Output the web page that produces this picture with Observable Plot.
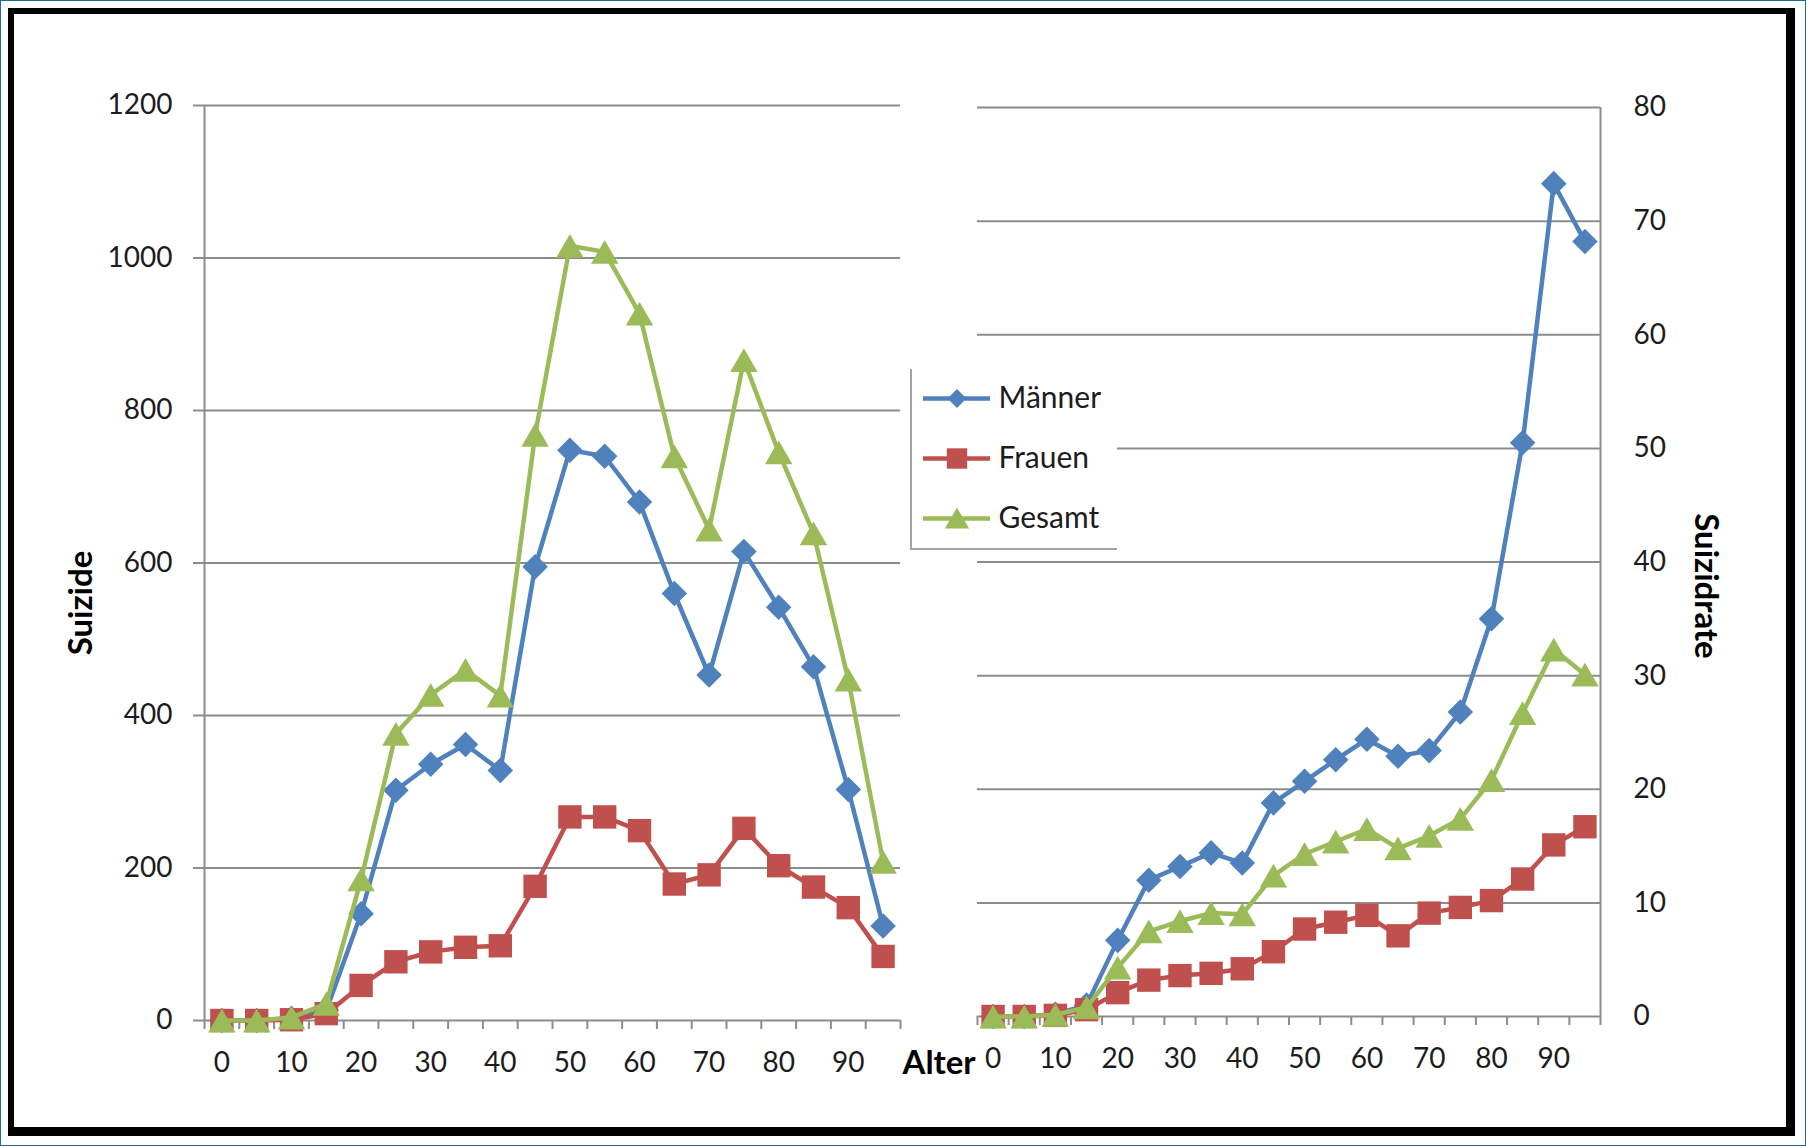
<!DOCTYPE html>
<html>
<head>
<meta charset="utf-8">
<script src="https://cdn.jsdelivr.net/npm/d3@7"></script>
<script src="https://cdn.jsdelivr.net/npm/@observablehq/plot@0.6"></script>
<style>
html, body { margin: 0; padding: 0; background: #fff; }
#page { position: relative; width: 1806px; height: 1146px; overflow: hidden; background: #fff; }
#edge { position: absolute; left: 0; top: 0; width: 1806px; height: 1146px; box-sizing: border-box; border: 1px solid #1d6a94; }
#frame { position: absolute; left: 8px; top: 8px; width: 1787px; height: 1128px; box-sizing: border-box; border-style: solid; border-color: #000; border-width: 6px 9px 9px 6px; }
#left { position: absolute; left: 0; top: 0; }
#right { position: absolute; left: 900px; top: 0; }
#legend { position: absolute; left: 910px; top: 369px; width: 207px; height: 181px; box-sizing: border-box; background: #fff; border-left: 2px solid #a3a3a3; border-bottom: 2px solid #a3a3a3; }
svg { display: block; }
</style>
</head>
<body>
<div id="page">
  <div id="edge"></div>
  <div id="frame"></div>
  <div id="left"></div>
  <div id="right"></div>
  <div id="legend"></div>
</div>
<script>
// ---------- data ----------
const ages = [0, 5, 10, 15, 20, 25, 30, 35, 40, 45, 50, 55, 60, 65, 70, 75, 80, 85, 90, 95];

const seriesNames = ["Männer", "Frauen", "Gesamt"];

// Suizide (absolute numbers)
const suizideMaenner = [0, 0, 3, 13, 140, 302, 336, 362, 328, 595, 748, 740, 680, 560, 453, 615, 542, 464, 303, 124];
const suizideFrauen  = [0, 0, 1, 9, 46, 77, 90, 96, 98, 176, 267, 267, 249, 179, 191, 252, 203, 175, 148, 84];
const suizideGesamt  = [0, 0, 4, 22, 185, 376, 427, 460, 426, 768, 1016, 1008, 927, 740, 644, 866, 745, 639, 447, 208];

// Suizidrate (per 100 000)
const rateMaenner = [0, 0, 0.2, 1.0, 6.7, 12.0, 13.2, 14.4, 13.5, 18.8, 20.7, 22.6, 24.4, 22.9, 23.4, 26.8, 35.0, 50.5, 73.3, 68.2];
const rateFrauen  = [0, 0, 0.1, 0.6, 2.1, 3.2, 3.6, 3.8, 4.2, 5.7, 7.7, 8.3, 8.9, 7.1, 9.1, 9.6, 10.2, 12.1, 15.1, 16.7];
const rateGesamt  = [0, 0, 0.15, 0.8, 4.3, 7.5, 8.4, 9.1, 9.0, 12.4, 14.3, 15.4, 16.5, 14.8, 15.9, 17.4, 20.8, 26.7, 32.3, 30.1];

// ticks
const leftYTicks  = [0, 200, 400, 600, 800, 1000, 1200];
const rightYTicks = [0, 10, 20, 30, 40, 50, 60, 70, 80];
const xLabelTicks = [0, 10, 20, 30, 40, 50, 60, 70, 80, 90];

// ---------- style ----------
const FONT = "Lato, 'Open Sans', sans-serif";
const TEXT = "#1c1c1c";
const GRID = "#8c8c8c";
const AXIS = "#8c8c8c";
const seriesColors  = ["#4F81BD", "#C0504D", "#9BBB59"];
const seriesSymbols = ["diamond2", "square", "triangle"];
const markerR  = [11.5, 13.2, 10.2];
const markerDy = [0, 0, 4];
const plain = d => String(d);

const xDomain = [ages[0] - 2.5, ages[ages.length - 1] + 2.5];
const boundaryTicks = ages.map(a => a - 2.5).concat([ages[ages.length - 1] + 2.5]);

function rows(values, name) {
  return ages.map((a, i) => ({age: a, value: values[i], series: name}));
}

function seriesMarks(sets) {
  const marks = [];
  sets.forEach((data, i) => {
    marks.push(Plot.line(data, {x: "age", y: "value", stroke: seriesColors[i], strokeWidth: 4.5, strokeLinejoin: "round"}));
    marks.push(Plot.dot(data, {x: "age", y: "value", symbol: seriesSymbols[i], fill: seriesColors[i], stroke: "none", r: markerR[i], dy: markerDy[i]}));
  });
  return marks;
}

function xAxes() {
  return [
    Plot.axisX({ticks: boundaryTicks, tickSize: 9, tickFormat: () => "", label: null, stroke: AXIS, strokeWidth: 2}),
    Plot.axisX({ticks: xLabelTicks, tickSize: 0, tickPadding: 32, tickFormat: plain, label: null, fontSize: 28, fill: TEXT})
  ];
}

// ---------- left chart: Suizide ----------
const leftData = [rows(suizideMaenner, seriesNames[0]), rows(suizideFrauen, seriesNames[1]), rows(suizideGesamt, seriesNames[2])];

const left = Plot.plot({
  width: 980, height: 1146,
  marginLeft: 204, marginRight: 80, marginTop: 105, marginBottom: 126,
  style: {background: "transparent", fontFamily: FONT, fontSize: "28px", color: TEXT, overflow: "visible"},
  x: {domain: xDomain, axis: null},
  y: {domain: [0, 1200], axis: null},
  marks: [
    Plot.ruleY(leftYTicks, {stroke: GRID, strokeWidth: 2}),
    Plot.ruleX([xDomain[0]], {stroke: AXIS, strokeWidth: 2}),
    Plot.axisY({ticks: leftYTicks, tickSize: 11, tickPadding: 21, tickFormat: plain, label: null, stroke: AXIS, strokeWidth: 2, fontSize: 28, fill: TEXT}),
    ...xAxes(),
    ...seriesMarks(leftData),
    Plot.text(["Suizide"], {text: d => d, frameAnchor: "left", rotate: -90, dx: -123, dy: 40, textAnchor: "middle", lineAnchor: "middle", fontWeight: "bold", fontSize: 33, fill: "#000"}),
    Plot.text(["Alter"], {text: d => d, frameAnchor: "bottom-right", dx: 2, dy: 43, textAnchor: "start", lineAnchor: "middle", fontWeight: "bold", fontSize: 33, fill: "#000"})
  ]
});
document.getElementById("left").appendChild(left);

// ---------- right chart: Suizidrate ----------
const rightData = [rows(rateMaenner, seriesNames[0]), rows(rateFrauen, seriesNames[1]), rows(rateGesamt, seriesNames[2])];

const right = Plot.plot({
  width: 906, height: 1146,
  marginLeft: 77, marginRight: 206, marginTop: 107, marginBottom: 130,
  style: {background: "transparent", fontFamily: FONT, fontSize: "28px", color: TEXT, overflow: "visible"},
  x: {domain: xDomain, axis: null},
  y: {domain: [0, 80], axis: null},
  marks: [
    Plot.ruleY(rightYTicks, {stroke: GRID, strokeWidth: 2}),
    Plot.ruleX([xDomain[1]], {stroke: AXIS, strokeWidth: 2}),
    Plot.axisY({anchor: "right", ticks: rightYTicks, tickSize: 0, tickPadding: 33, tickFormat: plain, label: null, fontSize: 28, fill: TEXT}),
    ...xAxes(),
    ...seriesMarks(rightData),
    Plot.text(["Suizidrate"], {text: d => d, frameAnchor: "right", rotate: 90, dx: 105, dy: 24, textAnchor: "middle", lineAnchor: "middle", fontWeight: "bold", fontSize: 33, fill: "#000"})
  ]
});
document.getElementById("right").appendChild(right);

// ---------- legend ----------
const legendMarks = [
  Plot.ruleY(seriesNames, {y: d => d, x1: 0, x2: 1, stroke: (d, i) => seriesColors[i], strokeWidth: 4.5})
];
const legendR = [8.5, 11.5, 9];
const legendDy = [0, 0, 3];
seriesNames.forEach((name, i) => {
  legendMarks.push(Plot.dot([name], {x: 0.5, y: d => d, symbol: seriesSymbols[i], fill: seriesColors[i], stroke: "none", r: legendR[i], dy: legendDy[i]}));
});
legendMarks.push(Plot.text(seriesNames, {x: 1, y: d => d, text: d => d, dx: 8, textAnchor: "start", lineAnchor: "middle", fontSize: 30, fill: TEXT}));

const legend = Plot.plot({
  width: 205, height: 179, margin: 0,
  style: {background: "#fff", fontFamily: FONT, overflow: "visible"},
  x: {domain: [0, 1], range: [11, 78], axis: null},
  y: {type: "point", domain: seriesNames, range: [28, 149], padding: 0, axis: null},
  marks: legendMarks
});
document.getElementById("legend").appendChild(legend);
</script>
</body>
</html>
